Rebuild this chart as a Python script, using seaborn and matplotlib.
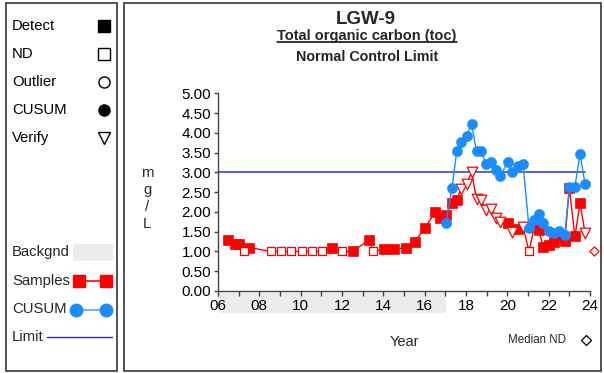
import numpy as np
import pandas as pd
import matplotlib
matplotlib.use("Agg")
import matplotlib.pyplot as plt
import matplotlib.transforms as mtransforms
from matplotlib.patches import Rectangle
import seaborn as sns

# --- data ---
sample_year = [6.50, 6.82, 7.03, 7.27, 7.50, 8.55, 9.05, 9.55, 10.05, 10.53,
               11.03, 11.52, 12.02, 12.52, 13.32, 13.51, 14.03, 14.51, 15.10, 15.53,
               16.02, 16.52, 16.76, 17.03, 17.32, 17.55, 17.74, 18.03, 18.27, 18.51,
               18.72, 18.98, 19.22, 19.46, 19.66, 20.02, 20.22, 20.53, 20.76, 21.05,
               21.30, 21.53, 21.73, 22.03, 22.27, 22.52, 22.78, 23.00, 23.27, 23.52,
               23.76]
sample_toc = [1.30, 1.20, 1.20, 1.00, 1.10, 1.00, 1.00, 1.00, 1.00, 1.00,
              1.00, 1.10, 1.00, 1.00, 1.30, 1.00, 1.05, 1.05, 1.10, 1.25,
              1.60, 2.00, 1.85, 1.92, 2.23, 2.30, 2.57, 2.71, 3.01, 2.32,
              2.31, 2.04, 2.07, 1.84, 1.75, 1.71, 1.48, 1.57, 1.63, 1.00,
              1.61, 1.54, 1.12, 1.16, 1.24, 1.33, 1.27, 2.61, 1.38, 2.22,
              1.47]
# D = detect, N = non-detect, V = verify
sample_flag = list("DDDNDNNNNNNDNDDNDDDDDDDDDDVVVVVVVVVDVDVNDDDDDDDDDDV")

cusum_year = [17.03, 17.32, 17.55, 17.74, 18.03, 18.27, 18.51, 18.72, 18.98, 19.22,
              19.46, 19.66, 20.02, 20.22, 20.53, 20.76, 21.05, 21.30, 21.53, 21.73,
              22.03, 22.27, 22.52, 22.78, 23.00, 23.27, 23.52, 23.76]
cusum_toc = [1.73, 2.60, 3.53, 3.76, 3.92, 4.23, 3.53, 3.53, 3.22, 3.27,
             3.05, 2.92, 3.25, 3.00, 3.16, 3.20, 1.59, 1.80, 1.96, 1.71,
             1.51, 1.46, 1.51, 1.41, 2.62, 2.64, 3.47, 2.70]

limit_value = 3.0
limit_span = [6.0, 23.76]
backgnd_span = [6.0, 17.05]
median_nd_year = [24.17]
median_nd_value = [1.0]

x_ticks = list(range(6, 25, 2))
x_tick_labels = [f"{t:02d}" for t in x_ticks]
y_ticks = [0, 0.5, 1.0, 1.5, 2.0, 2.5, 3.0, 3.5, 4.0, 4.5, 5.0]

RED = "#ff0000"
BLUE = "#1a8cff"
LIMIT_BLUE = "#4040e0"
GRAY_BG = "#ececec"
EDGE = "#444444"

sns.set_theme(style="white")
plt.rcParams["font.family"] = ["Liberation Sans", "DejaVu Sans"]

W, H = 604, 373
fig = plt.figure(figsize=(W / 100, H / 100), dpi=100)

# pixel-coordinate overlay for frames, legend panel and titles
ov = fig.add_axes([0, 0, 1, 1], zorder=0)
ov.set_xlim(0, W)
ov.set_ylim(H, 0)
ov.axis("off")
ov.patch.set_alpha(0)

ov.add_patch(Rectangle((5.5, 3.3), 111.5, 367.4, fill=False, ec=EDGE, lw=1.3))
ov.add_patch(Rectangle((124, 3.3), 477, 367.4, fill=False, ec=EDGE, lw=1.3))

# legend panel
fs = 10.7
items = [("Detect", 26, dict(marker="s", mfc="black", mec="black")),
         ("ND", 54, dict(marker="s", mfc="white", mec="black")),
         ("Outlier", 82, dict(marker="o", mfc="white", mec="black")),
         ("CUSUM", 110, dict(marker="o", mfc="black", mec="black")),
         ("Verify", 138, dict(marker="v", mfc="white", mec="black"))]
for label, y, mk in items:
    ov.text(12, y, label, fontsize=fs, va="center", ha="left", color="black")
    ov.plot([104], [y], ms=8, mew=1.0, ls="none", **mk)

ov.text(12, 252, "Backgnd", fontsize=fs, va="center")
ov.add_patch(Rectangle((72.5, 244), 40, 16.5, fc=GRAY_BG, ec="none"))
ov.text(12, 281, "Samples", fontsize=fs, va="center")
ov.plot([78.5, 106], [281, 281], color=RED, lw=1.2, marker="s", ms=8.5,
        mfc=RED, mec=RED)
ov.text(12, 309, "CUSUM", fontsize=fs, va="center")
ov.plot([75.5, 106], [309.5, 309.5], color="#70b4f0", lw=1.5, marker="o", ms=9,
        mfc=BLUE, mec=BLUE)
ov.text(12, 337, "Limit", fontsize=fs, va="center")
ov.plot([47, 112], [337, 337], color="#2828c0", lw=1.0)

# titles
ov.text(366, 19.5, "LGW-9", fontsize=13.5, fontweight="bold", ha="center", va="center")
sub = ov.text(367, 36, "Total organic carbon (toc)", fontsize=10.5, fontweight="bold",
              ha="center", va="center")
ov.text(367.5, 57, "Normal Control Limit", fontsize=10.3, fontweight="bold",
        ha="center", va="center")
fig.canvas.draw()
bb = sub.get_window_extent(renderer=fig.canvas.get_renderer())
ov.plot([bb.x0, bb.x1], [42.2, 42.2], color="black", lw=1.1)

# y label stacked letters
for ch, yy in zip(["m", "g", "/", "L"], [177, 194, 211, 227.5]):
    ov.text(147, yy, ch, fontsize=fs, ha="center", va="baseline")

ov.text(404, 342, "Year", fontsize=10.5, ha="center", va="center")
ov.text(537, 340, "Median ND", fontsize=8.3, ha="center", va="center")
ov.plot([586], [340], marker="D", ms=5, mfc="white", mec="black", mew=0.9, ls="none")

# main chart
ax = fig.add_axes([218 / W, (H - 291) / H, (590 - 218) / W, (291 - 93.3) / H], zorder=1)
ax.patch.set_alpha(0)

df_s = pd.DataFrame({"year": sample_year, "toc": sample_toc, "flag": sample_flag})
df_c = pd.DataFrame({"year": cusum_year, "toc": cusum_toc})

ax.plot(limit_span, [limit_value, limit_value], color=LIMIT_BLUE, lw=1.2, zorder=1)

sns.lineplot(data=df_s, x="year", y="toc", ax=ax, color=RED, lw=1.0,
             estimator=None, sort=False, zorder=2)
sns.scatterplot(data=df_s[df_s.flag == "D"], x="year", y="toc", ax=ax, marker="s",
                s=48, color=RED, edgecolor=RED, linewidth=0.5, zorder=3)
sns.scatterplot(data=df_s[df_s.flag == "N"], x="year", y="toc", ax=ax, marker="s",
                s=40, facecolor="white", edgecolor=RED, linewidth=0.9, zorder=3)
sns.scatterplot(data=df_s[df_s.flag == "V"], x="year", y="toc", ax=ax, marker="v",
                s=58, facecolor="white", edgecolor=RED, linewidth=0.9, zorder=3)

sns.lineplot(data=df_c, x="year", y="toc", ax=ax, color=BLUE, lw=1.0,
             estimator=None, sort=False, zorder=4)
sns.scatterplot(data=df_c, x="year", y="toc", ax=ax, marker="o", s=55,
                color=BLUE, edgecolor=BLUE, linewidth=0.3, zorder=5)

ax.scatter(median_nd_year, median_nd_value, marker="D", s=22, facecolor="white",
           edgecolor=RED, linewidth=0.9, clip_on=False, zorder=5)

# background period band under the x axis
trans = mtransforms.blended_transform_factory(ax.transData, ax.transAxes)
ax.add_patch(Rectangle((backgnd_span[0], -0.11), backgnd_span[1] - backgnd_span[0], 0.10,
                       transform=trans, fc=GRAY_BG, ec="none", clip_on=False, zorder=0))

ax.set_xlim(6, 24)
ax.set_ylim(0, 5)
ax.set_xticks(x_ticks)
ax.set_xticklabels(x_tick_labels)
ax.set_xticks(list(range(7, 24, 2)), minor=True)
ax.set_yticks(y_ticks)
ax.set_yticklabels([f"{v:.2f}" for v in y_ticks])
ax.set_xlabel("")
ax.set_ylabel("")
sns.despine(ax=ax)
for side in ["left", "bottom"]:
    ax.spines[side].set_color(EDGE)
    ax.spines[side].set_linewidth(1.0)
ax.tick_params(axis="both", which="both", direction="out", color=EDGE, width=1.0,
               labelsize=11, labelcolor="black")
ax.tick_params(axis="x", which="both", length=3.5, pad=2.5, bottom=True)
ax.tick_params(axis="y", which="both", length=3, pad=2, left=True)
ax.grid(False)

fig.savefig("out.png", dpi=100)
